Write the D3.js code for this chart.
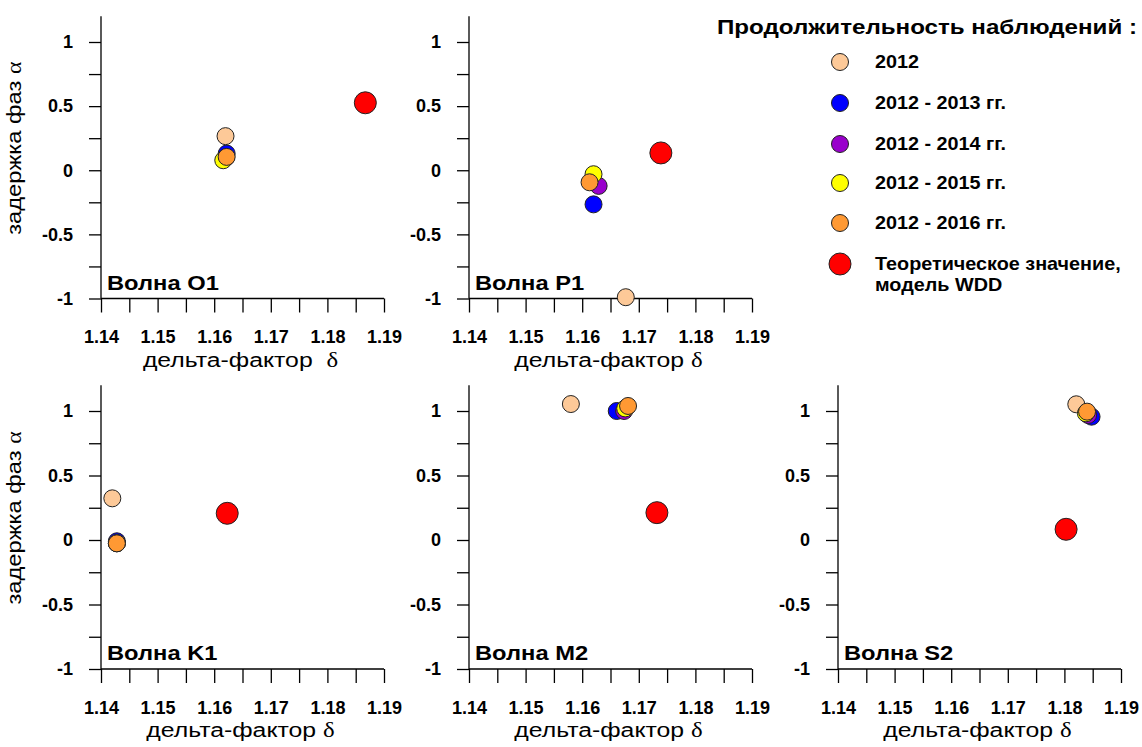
<!DOCTYPE html>
<html>
<head>
<meta charset="utf-8">
<script src="https://cdn.jsdelivr.net/npm/d3@7"></script>
<style>
  body { margin: 0; background: #fff; }
  svg { font-family: "Liberation Sans", Arial, sans-serif; }
  .axis path, .axis line { stroke: #000; stroke-width: 1.3; }
  .axis text { font-size: 18px; font-weight: bold; fill: #000; }
</style>
</head>
<body>
<svg id="chart" width="1142" height="747"></svg>
<script>
// waves (one panel each)
var waves = ["O1", "P1", "K1", "M2", "S2"];
var seriesNames = ["2012", "2012 - 2013 гг.", "2012 - 2014 гг.", "2012 - 2015 гг.", "2012 - 2016 гг.", "Теоретическое значение,|модель WDD"];

// delta-factor per wave, in order O1, P1, K1, M2, S2
var delta2012 = [1.1620, 1.1677, 1.1420, 1.1580, 1.1821];
var delta2013 = [1.1622, 1.1620, 1.1428, 1.1661, 1.1848];
var delta2014 = [1.1621, 1.1629, 1.1428, 1.1674, 1.1842];
var delta2015 = [1.1616, 1.1620, 1.1428, 1.1676, 1.1838];
var delta2016 = [1.1622, 1.1613, 1.1428, 1.1681, 1.1840];
var deltaWDD  = [1.1867, 1.1739, 1.1623, 1.1732, 1.1803];

// phase delay per wave
var alpha2012 = [0.266, -0.99, 0.323, 1.054, 1.052];
var alpha2013 = [0.130, -0.266, -0.010, 1.000, 0.956];
var alpha2014 = [0.100, -0.122, -0.025, 1.000, 0.969];
var alpha2015 = [0.078, -0.031, -0.025, 1.020, 0.982];
var alpha2016 = [0.104, -0.094, -0.026, 1.039, 0.995];
var alphaWDD  = [0.526, 0.135, 0.207, 0.212, 0.083];

var xTicks = d3.range(0, 11).map(function(i) { return 1.14 + i * 0.005; });
var yTicks = d3.range(0, 9).map(function(i) { return -1 + i * 0.25; });

var deltas = [delta2012, delta2013, delta2014, delta2015, delta2016, deltaWDD];
var alphas = [alpha2012, alpha2013, alpha2014, alpha2015, alpha2016, alphaWDD];
var colors = ["#fdc998", "#0000ff", "#9900cc", "#ffff00", "#ff9933", "#ff0000"];
var radii = [8.5, 8.5, 8.5, 8.5, 8.5, 11];

var svg = d3.select("#chart");

// text that is a little wider than the font gives (as in the original)
function wideText(x, y, size, sx, extra) {
  return svg.append("text")
      .attr("transform", "translate(" + x + "," + y + ")" + (extra || "") + " scale(" + sx + ",1)")
      .attr("font-size", size);
}

// panel placement: axis x, y of alpha=-1, y of alpha=1
var panels = [
  { left: 101, bottom: 298.5, top: 42 },
  { left: 469, bottom: 298.5, top: 42 },
  { left: 101, bottom: 669, top: 411 },
  { left: 469, bottom: 669, top: 411 },
  { left: 838, bottom: 669, top: 411 }
];
var plotW = 283;

waves.forEach(function(wave, wi) {
  var p = panels[wi];
  var x = d3.scaleLinear().domain([1.14, 1.19]).range([p.left, p.left + plotW]);
  var y = d3.scaleLinear().domain([-1, 1]).range([p.bottom, p.top]);

  var gx = svg.append("g")
      .attr("class", "axis")
      .attr("transform", "translate(0," + p.bottom + ")")
      .call(d3.axisBottom(x).tickValues(xTicks).tickSize(14).tickPadding(18)
        .tickFormat(function(d, i) { return i % 2 === 0 ? d3.format(".2f")(d) : ""; }));
  gx.select(".domain").remove();
  gx.append("line").attr("x1", x(1.14)).attr("x2", x(1.19));

  var gy = svg.append("g")
      .attr("class", "axis")
      .attr("transform", "translate(" + p.left + ",0)")
      .call(d3.axisLeft(y).tickValues(yTicks).tickSize(12).tickPadding(16)
        .tickFormat(function(d, i) { return i % 2 === 0 ? String(d) : ""; }));
  gy.select(".domain").remove();
  gy.append("line").attr("y1", y(-1)).attr("y2", y(1.2));

  // panel title
  wideText(p.left + 6, p.bottom - 9, 21, 1.13)
      .attr("font-weight", "bold")
      .text("Волна " + wave);

  // x label
  var xl = wideText(p.left + plotW / 2 - 2, p.bottom + 68, 21, 1.18)
      .attr("text-anchor", "middle");
  xl.append("tspan").text(wi === 0 ? "дельта-фактор\u00a0 " : "дельта-фактор ");
  xl.append("tspan").attr("font-family", "Liberation Serif").text("δ");

  // y label (left column only)
  if (p.left < 200) {
    var yl = wideText(21, y(0) - 22, 21, 1.13, " rotate(-90)")
        .attr("text-anchor", "middle");
    yl.append("tspan").text("задержка фаз ");
    yl.append("tspan").attr("font-family", "Liberation Serif").text("α");
  }

  // points
  deltas.forEach(function(ds, si) {
    svg.append("circle")
        .attr("cx", x(ds[wi]))
        .attr("cy", y(alphas[si][wi]))
        .attr("r", radii[si])
        .attr("fill", colors[si])
        .attr("stroke", "#222")
        .attr("stroke-width", 1);
  });
});

// legend
wideText(1137, 34, 21, 1.15)
    .attr("text-anchor", "end")
    .attr("font-weight", "bold")
    .text("Продолжительность наблюдений :");

var legendY = [62, 103, 144, 183, 223, 264];
seriesNames.forEach(function(name, i) {
  svg.append("circle")
      .attr("cx", 840).attr("cy", legendY[i])
      .attr("r", radii[i])
      .attr("fill", colors[i])
      .attr("stroke", "#222").attr("stroke-width", 1);
  var t = wideText(875, legendY[i] + 6, 18, 1.1)
      .attr("font-weight", "bold");
  name.split("|").forEach(function(line, li) {
    t.append("tspan").attr("x", 0).attr("dy", li === 0 ? 0 : 21).text(line);
  });
});
</script>
</body>
</html>
